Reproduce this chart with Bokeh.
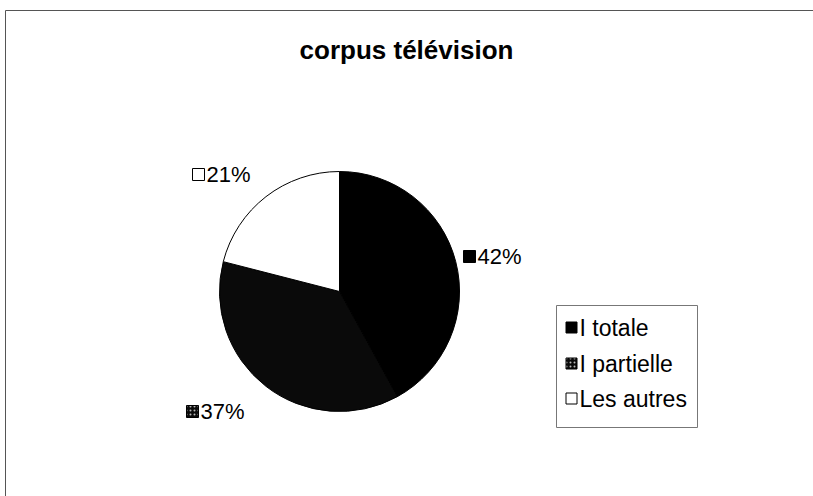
import math
from bokeh.plotting import figure
from bokeh.models import Range1d, ColumnDataSource
from bokeh.core.properties import value
from bokeh.embed import file_html
from bokeh.resources import INLINE

title = "corpus télévision"
categories = ["I totale", "I partielle", "Les autres"]
percents = [42, 37, 21]
colors = ["#000000", "#0a0a0a", "#ffffff"]

W, H = 813, 496
p = figure(width=W, height=H, output_backend="svg", toolbar_location=None,
           x_range=Range1d(0, W), y_range=Range1d(H, 0),
           min_border=0, outline_line_color=None)
p.axis.visible = False
p.grid.visible = False
p.background_fill_color = "white"
p.border_fill_color = "white"

# chart frame (top and left edges visible in the reference)
p.segment(x0=[5, 5], y0=[10, 10], x1=[W, 5], y1=[10, H], line_color="#555555", line_width=1)

# title
p.text(x=[406], y=[49], text=[title], text_font=value("Liberation Sans"),
       text_font_style="bold", text_font_size="26px", text_align="center",
       text_baseline="middle", text_color="black")

# pie (clockwise from 12 o'clock)
total = sum(percents)
starts, ends = [], []
acc = 0.0
for v in percents:
    a0 = math.pi / 2 - 2 * math.pi * acc / total
    acc += v
    a1 = math.pi / 2 - 2 * math.pi * acc / total
    starts.append(a0)
    ends.append(a1)
src = ColumnDataSource(dict(start=starts, end=ends, color=colors, cat=categories))
cx, cy, r = 339, 291, 120
p.wedge(x=cx, y=cy, radius=r, start_angle="start", end_angle="end",
        direction="clock", fill_color="color", line_color="black",
        line_width=1, source=src)

# swatch styles (partial slice is a dithered dark grey in the reference)
sw_hatch = [None, "dot", None]

# data labels
lab_pos = [(469, 256), (192, 411), (198, 174)]
for (lx, ly), v, c, h in zip(lab_pos, percents, colors, sw_hatch):
    kw = dict(hatch_pattern=h, hatch_color="#bbbbbb", hatch_scale=4) if h else {}
    p.rect(x=[lx], y=[ly], width=12, height=12, fill_color=c, line_color="black",
           line_width=1, **kw)
    p.text(x=[lx + 8], y=[ly], text=[f"{v}%"], text_font=value("Liberation Sans"),
           text_font_size="22px", text_baseline="middle", text_color="black")

# legend
p.quad(left=[556], right=[697], top=[305], bottom=[427], fill_color="white",
       line_color="#777777", line_width=1)
leg_y = [327, 363, 398]
for ly, cat, c, h in zip(leg_y, categories, colors, sw_hatch):
    kw = dict(hatch_pattern=h, hatch_color="#bbbbbb", hatch_scale=4) if h else {}
    p.rect(x=[571], y=[ly], width=11, height=11, fill_color=c, line_color="black",
           line_width=1, **kw)
    p.text(x=[579], y=[ly], text=[cat], text_font=value("Liberation Sans"),
           text_font_size="23px", text_baseline="middle", text_color="black")

open("out.html", "w").write(file_html(p, INLINE))
